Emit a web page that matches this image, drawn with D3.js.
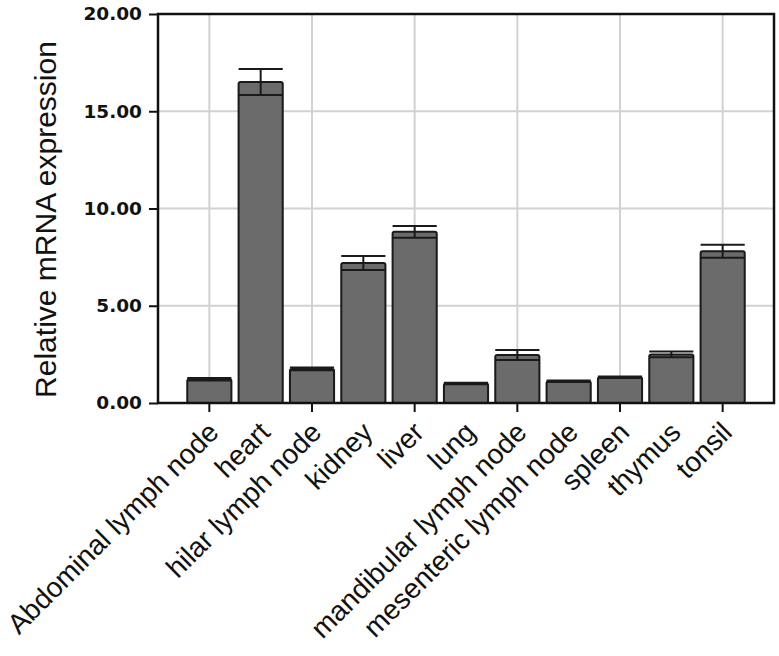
<!DOCTYPE html>
<html lang="en">
<head>
  <meta charset="UTF-8" />
  <title>Relative mRNA expression</title>
  <script src="https://d3js.org/d3.v7.min.js"></script>
  <style>
    body { margin: 0; background: #fff; }
    svg { display: block; }
    .ytick text { font-family: "DejaVu Sans", Verdana, sans-serif; font-weight: bold; font-size: 18.5px; fill: #111; }
    .xtick text { font-family: "Liberation Sans", Arial, sans-serif; font-size: 28px; fill: #111; }
    .axis-title { font-family: "Liberation Sans", Arial, sans-serif; font-size: 30px; fill: #111; }
  </style>
</head>
<body>
<svg id="chart" width="779" height="656"></svg>
<script>
const tissues = ["Abdominal lymph node", "heart", "hilar lymph node", "kidney", "liver", "lung",
  "mandibular lymph node", "mesenteric lymph node", "spleen", "thymus", "tonsil"];
const expression = [1.22, 16.5, 1.75, 7.2, 8.8, 1.0, 2.47, 1.12, 1.32, 2.5, 7.8];
const errors = [0.06, 0.67, 0.07, 0.36, 0.3, 0.04, 0.26, 0.04, 0.04, 0.15, 0.33];
const yTicks = [0, 5, 10, 15, 20];

const plot = { left: 158, right: 774, top: 14, bottom: 403 };

const svg = d3.select("#chart");

const x = d3.scaleBand()
  .domain(tissues)
  .range([plot.left, plot.right])
  .paddingInner(0.14)
  .paddingOuter(0.57);

const y = d3.scaleLinear()
  .domain([0, 20])
  .range([plot.bottom, plot.top]);

const cx = d => x(d) + x.bandwidth() / 2;
const gridX = tissues.filter((d, i) => i % 2 === 0);

// grid
svg.append("g")
  .selectAll("line")
  .data(yTicks.filter(t => t > 0 && t < 20))
  .enter()
  .append("line")
  .attr("x1", plot.left).attr("x2", plot.right)
  .attr("y1", d => y(d)).attr("y2", d => y(d))
  .attr("stroke", "#d2d2d2")
  .attr("stroke-width", 2);

svg.append("g")
  .selectAll("line")
  .data(gridX)
  .enter()
  .append("line")
  .attr("x1", d => cx(d)).attr("x2", d => cx(d))
  .attr("y1", plot.top).attr("y2", plot.bottom)
  .attr("stroke", "#d2d2d2")
  .attr("stroke-width", 2);

// bars
svg.append("g")
  .selectAll("rect")
  .data(tissues)
  .enter()
  .append("rect")
  .attr("x", d => x(d))
  .attr("y", (d, i) => y(expression[i]))
  .attr("width", x.bandwidth())
  .attr("height", (d, i) => y(0) - y(expression[i]))
  .attr("rx", 2)
  .attr("fill", "#6b6b6b")
  .attr("stroke", "#1a1a1a")
  .attr("stroke-width", 2);

// error bars
const err = svg.append("g")
  .attr("stroke", "#1a1a1a")
  .attr("stroke-width", 2);

err.selectAll("line.stem")
  .data(tissues)
  .enter()
  .append("line")
  .attr("class", "stem")
  .attr("x1", d => cx(d)).attr("x2", d => cx(d))
  .attr("y1", (d, i) => y(expression[i] + errors[i]))
  .attr("y2", (d, i) => y(expression[i] - errors[i]));

err.selectAll("line.cap-hi")
  .data(tissues)
  .enter()
  .append("line")
  .attr("class", "cap-hi")
  .attr("x1", d => x(d)).attr("x2", d => x(d) + x.bandwidth())
  .attr("y1", (d, i) => y(expression[i] + errors[i]))
  .attr("y2", (d, i) => y(expression[i] + errors[i]));

err.selectAll("line.cap-lo")
  .data(tissues)
  .enter()
  .append("line")
  .attr("class", "cap-lo")
  .attr("x1", d => x(d)).attr("x2", d => x(d) + x.bandwidth())
  .attr("y1", (d, i) => y(expression[i] - errors[i]))
  .attr("y2", (d, i) => y(expression[i] - errors[i]));

// frame
svg.append("rect")
  .attr("x", plot.left).attr("y", plot.top)
  .attr("width", plot.right - plot.left).attr("height", plot.bottom - plot.top)
  .attr("fill", "none")
  .attr("stroke", "#111")
  .attr("stroke-width", 2.5);

// y axis
const yAxis = svg.append("g")
  .attr("class", "ytick")
  .attr("transform", `translate(${plot.left},0)`)
  .call(d3.axisLeft(y).tickValues(yTicks).tickFormat(d3.format(".2f")).tickSize(9).tickPadding(7));
yAxis.select(".domain").remove();
yAxis.selectAll("line").attr("stroke", "#111").attr("stroke-width", 2);

// x axis
const xAxis = svg.append("g")
  .attr("class", "xtick")
  .attr("transform", `translate(0,${plot.bottom})`)
  .call(d3.axisBottom(x).tickSize(0));
xAxis.select(".domain").remove();
xAxis.selectAll(".tick line").remove();
xAxis.selectAll("text")
  .attr("text-anchor", "end")
  .attr("dy", null)
  .attr("y", 0)
  .attr("transform", "translate(11,31) rotate(-45)");

svg.append("g")
  .selectAll("line")
  .data(gridX)
  .enter()
  .append("line")
  .attr("x1", d => cx(d)).attr("x2", d => cx(d))
  .attr("y1", plot.bottom).attr("y2", plot.bottom + 9)
  .attr("stroke", "#111")
  .attr("stroke-width", 2);

svg.append("text")
  .attr("class", "axis-title")
  .attr("transform", `translate(56,${(plot.top + plot.bottom) / 2 + 11}) rotate(-90)`)
  .attr("text-anchor", "middle")
  .text("Relative mRNA expression");
</script>
</body>
</html>
